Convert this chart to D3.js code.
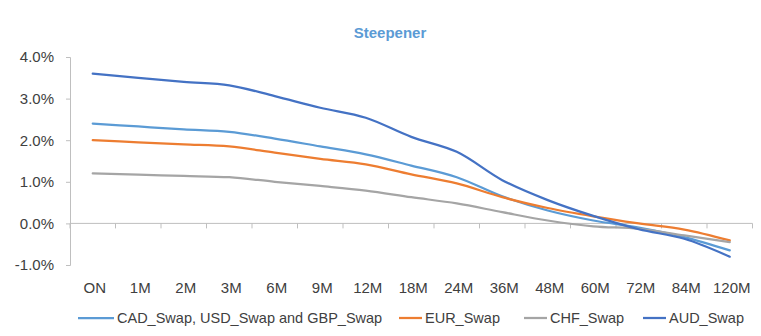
<!DOCTYPE html>
<html>
<head>
<meta charset="utf-8">
<script src="https://cdn.jsdelivr.net/npm/d3@7"></script>
<style>
  html, body { margin: 0; padding: 0; background: #fff; }
  svg { display: block; font-family: "Liberation Sans", Arial, sans-serif; }
</style>
</head>
<body>
<svg id="chart" width="761" height="336"></svg>
<script>
// Tenor buckets along the curve
const tenors = ["ON", "1M", "2M", "3M", "6M", "9M", "12M", "18M", "24M", "36M", "48M", "60M", "72M", "84M", "120M"];

// Swap curves (%), one value per tenor
const cadUsdGbpSwap = [2.40, 2.33, 2.26, 2.20, 2.04, 1.85, 1.66, 1.39, 1.11, 0.65, 0.31, 0.07, -0.10, -0.33, -0.65];
const eurSwap       = [2.00, 1.95, 1.90, 1.85, 1.70, 1.55, 1.42, 1.18, 0.96, 0.63, 0.37, 0.17, 0.00, -0.15, -0.41];
const chfSwap       = [1.20, 1.17, 1.14, 1.11, 1.00, 0.90, 0.79, 0.63, 0.48, 0.27, 0.07, -0.07, -0.13, -0.29, -0.45];
const audSwap       = [3.60, 3.50, 3.40, 3.32, 3.06, 2.78, 2.54, 2.08, 1.72, 1.04, 0.56, 0.18, -0.14, -0.37, -0.80];

const yTicks = [-1, 0, 1, 2, 3, 4];

const seriesNames  = ["CAD_Swap, USD_Swap and GBP_Swap", "EUR_Swap", "CHF_Swap", "AUD_Swap"];
const seriesValues = [cadUsdGbpSwap, eurSwap, chfSwap, audSwap];
const seriesColors = ["#5B9BD5", "#ED7D31", "#A5A5A5", "#4472C4"];

const svg = d3.select("#chart");
const axisColor = "#BFBFBF";
const textColor = "#404040";

const x = d3.scaleBand().domain(tenors).range([70, 752.5]).padding(0);
const y = d3.scaleLinear().domain([-1, 4]).range([265, 57]);

// Title
svg.append("text")
  .attr("x", 390).attr("y", 38)
  .attr("text-anchor", "middle")
  .attr("font-size", 15).attr("font-weight", "bold")
  .attr("fill", "#5B9BD5")
  .text("Steepener");

// Y axis
const yAxis = svg.append("g").attr("transform", "translate(70,0)")
  .call(d3.axisLeft(y).tickValues(yTicks).tickSize(4).tickPadding(12)
    .tickFormat(d => d.toFixed(1) + "%"));
yAxis.select(".domain").attr("stroke", axisColor);
yAxis.selectAll(".tick line").attr("stroke", axisColor);
yAxis.selectAll(".tick text").attr("fill", textColor).attr("font-size", 15)
  .attr("font-family", "Liberation Sans, Arial, sans-serif");

// X axis along zero, ticks between categories
const xAxisG = svg.append("g").attr("transform", `translate(0,${y(0)})`);
xAxisG.append("line")
  .attr("x1", x.range()[0]).attr("x2", x.range()[1])
  .attr("stroke", axisColor);
xAxisG.selectAll("line.tick")
  .data(tenors.map(t => x(t) + x.bandwidth()).concat([x.range()[0]]))
  .join("line").attr("class", "tick")
  .attr("x1", d => d).attr("x2", d => d)
  .attr("y1", 0).attr("y2", 5)
  .attr("stroke", axisColor);

// Category labels below the plot
svg.append("g").selectAll("text")
  .data(tenors).join("text")
  .attr("x", d => x(d) + x.bandwidth() / 2 + 2)
  .attr("y", 293)
  .attr("text-anchor", "middle")
  .attr("font-size", 15)
  .attr("fill", textColor)
  .text(d => d);

// Curves
const line = d3.line()
  .x((d, i) => x(tenors[i]) + x.bandwidth() / 2)
  .y(d => y(d))
  .curve(d3.curveCatmullRom.alpha(0.5));

svg.append("g").selectAll("path")
  .data(seriesValues).join("path")
  .attr("d", d => line(d))
  .attr("fill", "none")
  .attr("stroke", (d, i) => seriesColors[i])
  .attr("stroke-width", 2.25)
  .attr("stroke-linejoin", "round")
  .attr("stroke-linecap", "round");

// Legend
const legendX = [78, 399, 524, 643];
const legend = svg.append("g").selectAll("g")
  .data(seriesNames).join("g")
  .attr("transform", (d, i) => `translate(${legendX[i]},323)`);
legend.append("line")
  .attr("x1", 0).attr("x2", (d, i) => i === 0 ? 36 : 23)
  .attr("y1", -5).attr("y2", -5)
  .attr("stroke", (d, i) => seriesColors[i])
  .attr("stroke-width", 2.25);
legend.append("text")
  .attr("x", (d, i) => i === 0 ? 39 : 26)
  .attr("y", 0)
  .attr("font-size", 14.5)
  .attr("fill", textColor)
  .text(d => d);
</script>
</body>
</html>
